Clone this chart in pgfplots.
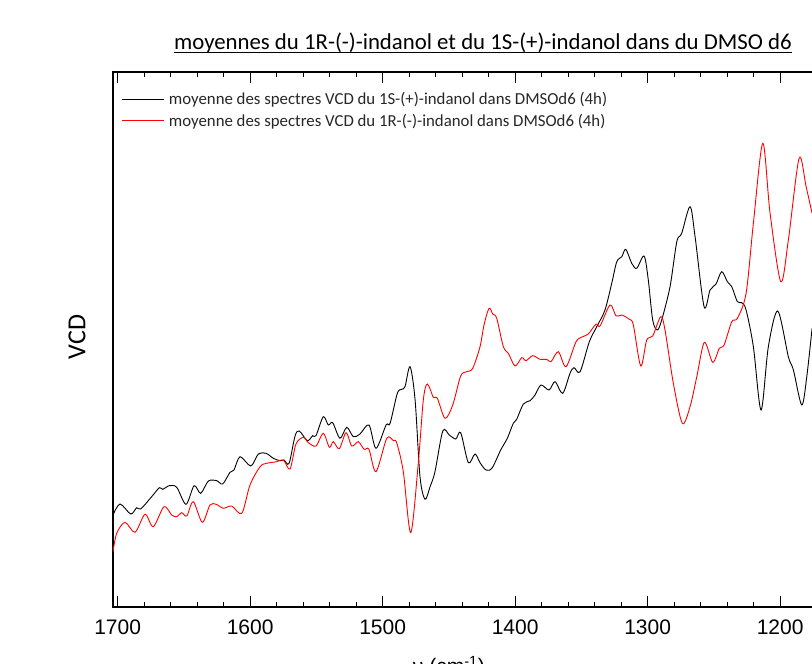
\documentclass[border=0pt]{standalone}
\usepackage{fontspec}
\usepackage{pgfplots}
\pgfplotsset{compat=1.18}
\setmainfont{Carlito}
\newfontfamily\tickfont{Liberation Sans}
\begin{document}
\begin{tikzpicture}
\clip (0,0) rectangle (812pt,664pt);
\begin{axis}[
  at={(113pt,57pt)}, anchor=south west,
  width=733.4pt, height=535pt, scale only axis,
  x dir=reverse, xmin=1150, xmax=1703.5,
  ymin=0, ymax=535,
  xtick={1200,1300,...,1700},
  minor x tick num=4,
  ytick=\empty,
  minor ytick={29.72,59.44,...,510},
  tick align=inside,
  major tick length=11pt, minor tick length=5pt,
  xtick pos=both, ytick pos=left,
  axis line style={line width=1.6pt},
  every tick/.style={black, line width=1.1pt},
  /pgf/number format/assume math mode=true,
  /pgf/number format/set thousands separator={},
  xticklabel style={font=\tickfont\fontsize{21}{21}\selectfont, yshift=-9pt},
  xlabel={ν (cm\textsuperscript{-1})},
  xlabel style={font=\tickfont\fontsize{21}{21}\selectfont, at={(axis description cs:0.458,-0.125)}, anchor=base},
  ylabel={VCD},
  ylabel style={font=\fontsize{26}{26}\selectfont, at={(axis description cs:-0.049,0.505)}, anchor=center},
  legend style={at={(axis description cs:0,1)}, anchor=north west, xshift=8pt, yshift=-18pt,
    draw=none, fill=none, font=\fontsize{16.8}{18}\selectfont, text=black!85, row sep=4pt, inner sep=0pt,
    /tikz/every odd column/.append style={column sep=3pt}},
  legend cell align=left,
  legend image code/.code={\draw[#1, line width=0.8pt] (0pt,0pt) -- (42pt,0pt);},
]
\addplot[black, line width=0.9pt, smooth, tension=0.5] coordinates {
(1703.5,92)(1698.2,103)(1690.1,93)(1685.6,99.3)(1682.6,98)(1674.3,110.3)(1668.5,119.3)(1666.0,117.7)
(1661.0,121.3)(1655.4,119.7)(1648.4,102.7)(1642.3,121.3)(1637.3,113.7)(1631.5,126)(1625.2,126.3)
(1620.7,123)(1615.2,134.7)(1612.2,137)(1607.6,150.3)(1599.5,141)(1593.8,153)(1588.0,153.7)
(1582.5,148.7)(1577.4,146.3)(1574.4,147)(1570.6,143.7)(1566.1,171)(1562.9,176)(1556.8,166.3)
(1552.8,171.3)(1550.3,171.3)(1544.8,190.3)(1541.0,182)(1537.7,184.3)(1532.2,168.7)(1527.1,179.7)
(1522.1,170.3)(1517.1,173)(1510.3,182)(1505.0,158.7)(1497.4,182)(1494.4,183.7)(1488.9,213.7)
(1485.6,217.7)(1483.1,220.3)(1479.3,240.3)(1475.5,207)(1471.8,130.3)(1468.0,107.7)(1464.2,120.3)
(1460.5,135.3)(1454.6,176)(1449.7,172)(1444.8,168)(1441.1,174.3)(1435.3,144.3)(1430.3,153)
(1426.5,144.3)(1422.0,137)(1417.4,139)(1410.9,157)(1405.9,168.7)(1401.4,183.7)(1398.8,187.7)
(1393.8,203)(1388.8,206.3)(1385.0,212)(1380.5,222)(1374.4,217)(1369.9,225.3)(1364.1,213.7)
(1358.6,233.7)(1355.6,239.3)(1351.0,235.3)(1344.0,265.3)(1338.4,280.3)(1332.2,297)(1327.1,323.7)
(1323.3,345.3)(1319.5,350.3)(1316.5,357.7)(1312.0,343.7)(1308.2,338.7)(1302.7,351)(1299.5,327)
(1296.2,287)(1292.7,277)(1289.4,287)(1283.1,320.3)(1278.0,365.3)(1274.3,373.7)(1268.0,400.3)
(1264.2,370.3)(1257.4,300.3)(1252.9,317)(1248.4,323)(1244.1,335.3)(1239.8,325.3)(1236.5,320.3)
(1232.3,305.3)(1229.0,304.3)(1225.7,297)(1220.2,260.3)(1214.4,197)(1208.9,260.3)(1201.8,296)
(1193.8,250.3)(1190.0,237)(1183.7,202)(1179.9,230.3)(1175.9,278.7)
};
\addlegendentry{moyenne des spectres VCD du 1S-(+)-indanol dans DMSOd6 (4h)}
\addplot[red, line width=0.9pt, smooth, tension=0.5] coordinates {
(1703.5,55.3)(1700.7,73.7)(1694.4,84.7)(1686.9,74.7)(1679.3,92.7)(1673.1,80.3)(1665.0,100.3)
(1659.2,92)(1655.4,90.3)(1651.6,94.3)(1647.8,91)(1642.9,105.3)(1636.1,84.7)(1630.3,102)
(1625.7,102.7)(1620.2,98.7)(1613.9,101)(1606.3,93.7)(1600.1,122)(1592.5,140.3)(1587.5,143.7)
(1579.9,145.3)(1574.9,147)(1569.9,138)(1565.4,163)(1559.8,169.7)(1556.1,164.3)(1550.3,161)
(1544.8,173.7)(1540.2,159.7)(1537.2,165.3)(1532.7,158.3)(1527.6,174.3)(1523.3,161)(1518.3,165.3)
(1514.0,157.7)(1510.3,157.7)(1505.0,135.3)(1496.9,168.7)(1491.9,166.3)(1489.4,164.3)(1484.4,135.3)
(1478.8,74.3)(1473.1,143.7)(1469.3,207)(1466.3,223)(1461.7,209.7)(1458.7,208.7)(1452.9,188.7)
(1447.1,202)(1441.1,231)(1436.5,235.3)(1432.0,238.7)(1426.5,260.3)(1423.5,282)(1419.7,298.7)
(1416.9,293)(1413.9,288.7)(1408.9,260.3)(1405.1,253.7)(1400.1,241)(1395.0,249.3)(1391.8,246.3)
(1386.7,251.3)(1381.2,247.7)(1376.2,247.7)(1372.9,245.3)(1367.4,255.3)(1361.6,240.3)(1354.0,265.3)
(1349.0,270.3)(1344.8,273)(1338.9,283)(1335.9,281)(1328.4,302)(1323.8,291)(1319.5,292)
(1313.8,287.7)(1310.8,282)(1305.2,241)(1300.7,267)(1296.2,271)(1290.1,290.3)(1286.9,277)
(1280.6,223.7)(1273.8,183.7)(1268.0,200.3)(1262.9,230.3)(1257.2,264.7)(1250.9,244.7)(1245.9,258.7)
(1242.3,262)(1236.5,285.3)(1232.3,288.7)(1225.7,313.7)(1220.2,383.7)(1213.1,463.7)(1207.6,393.7)
(1199.5,325.3)(1193.8,367)(1185.7,448.7)(1180.4,420.3)(1175.9,393.7)
};
\addlegendentry{moyenne des spectres VCD du 1R-(-)-indanol dans DMSOd6 (4h)}
\end{axis}
\node[inner sep=0pt, anchor=base, font=\fontsize{22.8}{22.8}\selectfont] (t) at (483pt,614pt)
  {moyennes du 1R-(-)-indanol et du 1S-(+)-indanol dans du DMSO d6};
\draw[line width=1.2pt] ([yshift=-2.5pt]t.base west) -- ([yshift=-2.5pt]t.base east);
\end{tikzpicture}
\end{document}
